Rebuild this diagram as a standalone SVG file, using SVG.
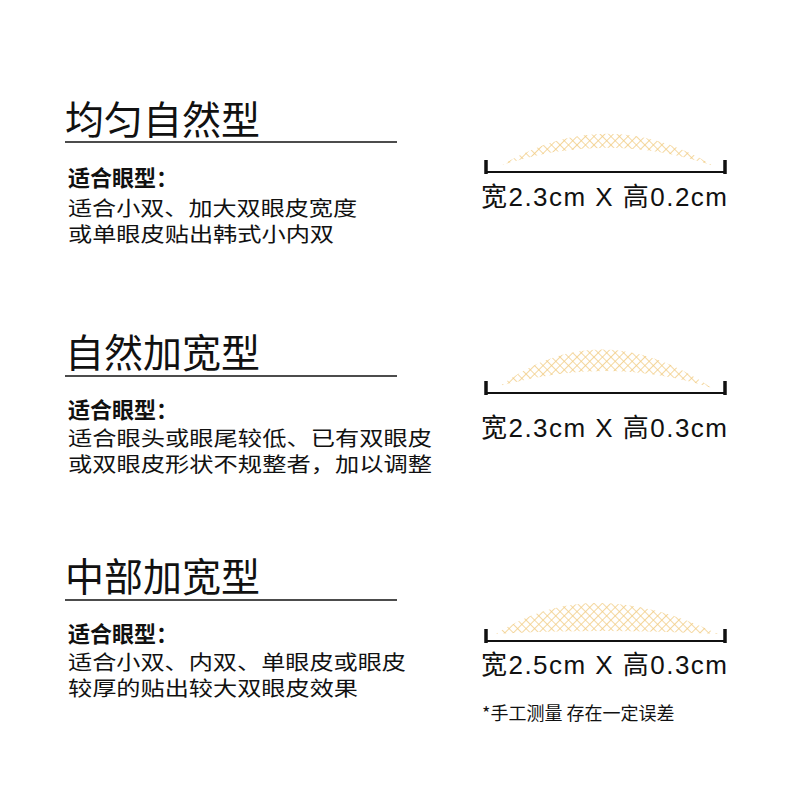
<svg xmlns="http://www.w3.org/2000/svg" width="800" height="800" viewBox="0 0 800 800">
<defs>
<pattern id="hatch" width="6" height="6" patternUnits="userSpaceOnUse" patternTransform="rotate(45)">
<path d="M0 0H6M0 0V6" stroke="#efc470" stroke-width="1.6" fill="none"/>
</pattern>
<style>
text{font-family:"Noto Sans CJK SC","Liberation Sans",sans-serif;fill:#111}
.t{font-size:39px}
.s{font-size:22px;font-weight:bold}
.b{font-size:20px}
.d{font-size:26px;font-family:"Liberation Sans","Noto Sans CJK SC",sans-serif}
.d tspan{font-family:"Noto Sans CJK SC",sans-serif}
.n{font-size:18px}
.rule{stroke:#111;stroke-width:1.5}
.ruler{stroke:#111;stroke-width:2;fill:none}
.tick{stroke:#111;stroke-width:3.5}
</style>
</defs>
<rect width="800" height="800" fill="#fff"/>
<g id="sec1">
<text class="t" x="65" y="134">均匀自然型</text>
<line class="rule" x1="65" y1="142" x2="397" y2="142"/>
<text class="s" x="68" y="186">适合眼型：</text>
<text class="b" x="68" y="216" textLength="289" lengthAdjust="spacingAndGlyphs">适合小双、加大双眼皮宽度</text>
<text class="b" x="68" y="242" textLength="266" lengthAdjust="spacingAndGlyphs">或单眼皮贴出韩式小内双</text>
<path d="M502 165 Q608 102 714 166 Q608 130 502 165Z" fill="url(#hatch)" opacity="0.85"/>
<path class="ruler" d="M485 172H726"/>
<line class="tick" x1="486" y1="160" x2="486" y2="174"/>
<line class="tick" x1="725" y1="160" x2="725" y2="174"/>
<text class="d" x="481" y="206" textLength="246" lengthAdjust="spacing"><tspan>宽</tspan>2.3cm X <tspan>高</tspan>0.2cm</text>
</g>
<g id="sec2">
<text class="t" x="65" y="367">自然加宽型</text>
<line class="rule" x1="65" y1="376" x2="397" y2="376"/>
<text class="s" x="68" y="418">适合眼型：</text>
<text class="b" x="68" y="446" textLength="364" lengthAdjust="spacingAndGlyphs">适合眼头或眼尾较低、已有双眼皮</text>
<text class="b" x="68" y="472" textLength="364" lengthAdjust="spacingAndGlyphs">或双眼皮形状不规整者，加以调整</text>
<path d="M500 386 Q600 312 712 388 Q610 355 500 386Z" fill="url(#hatch)" opacity="0.85"/>
<path class="ruler" d="M485 393H726"/>
<line class="tick" x1="486" y1="381" x2="486" y2="395"/>
<line class="tick" x1="725" y1="381" x2="725" y2="395"/>
<text class="d" x="481" y="437" textLength="246" lengthAdjust="spacing"><tspan>宽</tspan>2.3cm X <tspan>高</tspan>0.3cm</text>
</g>
<g id="sec3">
<text class="t" x="65" y="591">中部加宽型</text>
<line class="rule" x1="65" y1="600" x2="397" y2="600"/>
<text class="s" x="68" y="642">适合眼型：</text>
<text class="b" x="68" y="670" textLength="338" lengthAdjust="spacingAndGlyphs">适合小双、内双、单眼皮或眼皮</text>
<text class="b" x="68" y="696" textLength="290" lengthAdjust="spacingAndGlyphs">较厚的贴出较大双眼皮效果</text>
<path d="M496 634 Q590 572 718 634 Q600 628 496 634Z" fill="url(#hatch)" opacity="0.85"/>
<path class="ruler" d="M485 641H726"/>
<line class="tick" x1="486" y1="629" x2="486" y2="643"/>
<line class="tick" x1="725" y1="629" x2="725" y2="643"/>
<text class="d" x="481" y="674" textLength="246" lengthAdjust="spacing"><tspan>宽</tspan>2.5cm X <tspan>高</tspan>0.3cm</text>
<text class="n" x="482" y="720">*手工测量 存在一定误差</text>
</g>
</svg>
